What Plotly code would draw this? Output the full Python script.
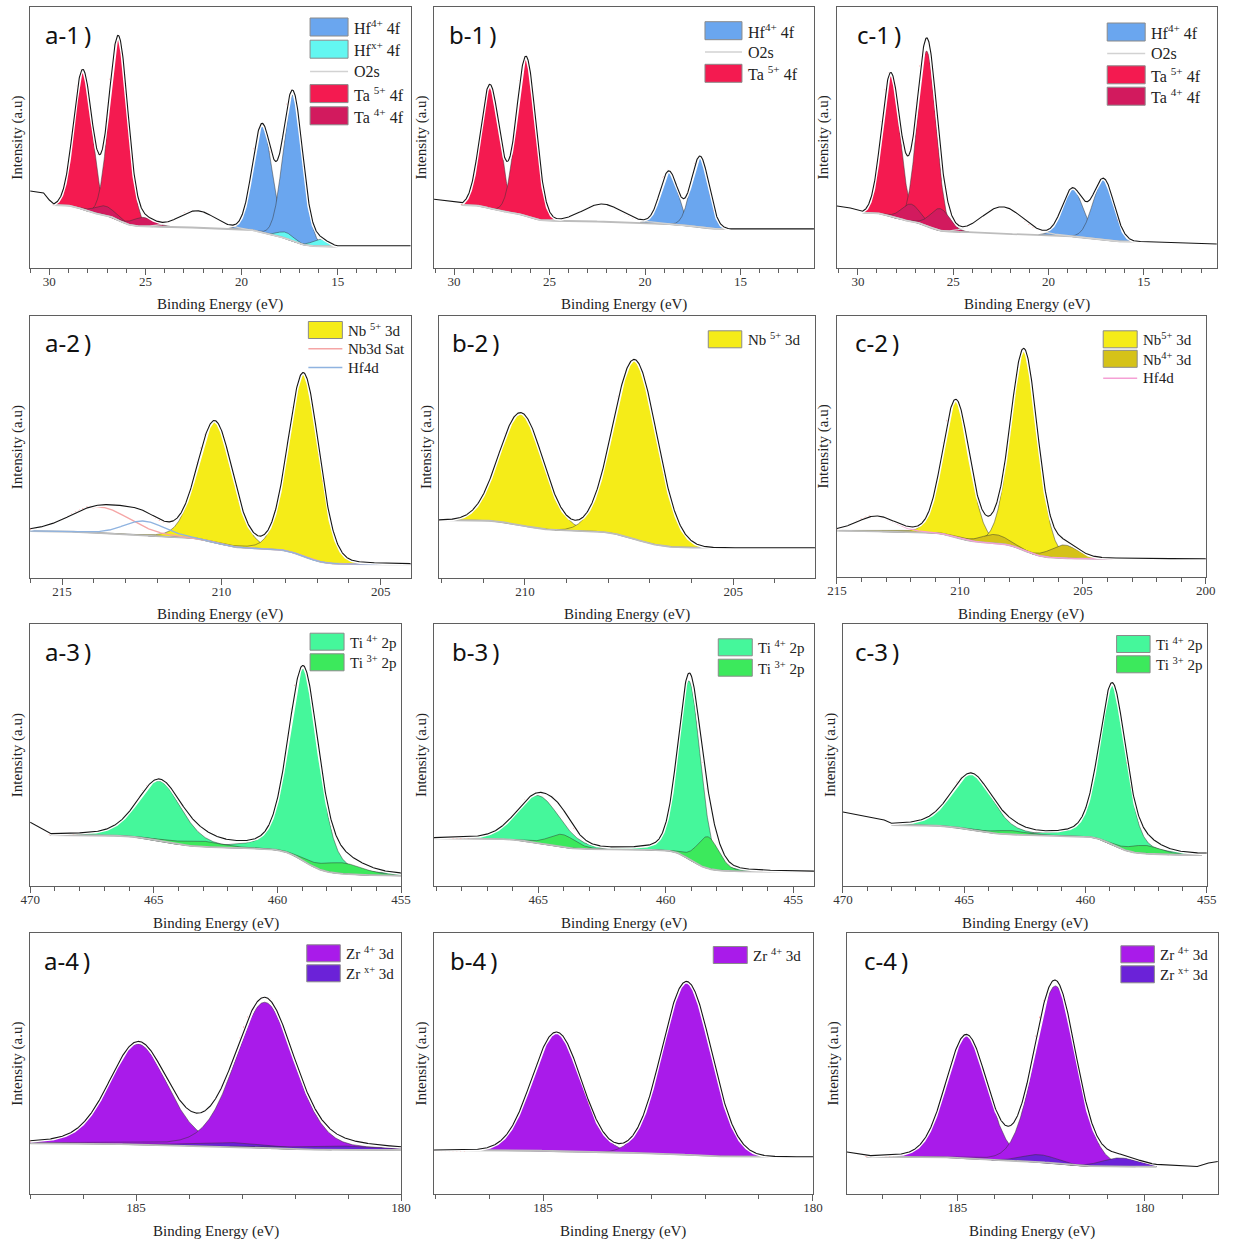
import numpy as np
import plotly.graph_objects as go

FIG_W, FIG_H = 1233, 1245
SERIF = "Liberation Serif"
SANS = "Noto Sans"

# ------------------------------------------------------------------ data
# Each panel: component legend names, kinds, peak centres (eV), peak heights (a.u.),
# FWHM (eV), Shirley background levels [high-BE end, low-BE end], fitted range,
# Lorentzian fraction, and raw-data points outside the fitted range.

# a-1  Hf 4f / Ta 4f
A1_NAMES = ["Hf<sup>4+</sup> 4f", "Hf<sup>x+</sup> 4f", "O2s", "Ta <sup>5+</sup> 4f", "Ta <sup>4+</sup> 4f"]
A1_KINDS = ["Hf4", "Hfx", "O2s", "Ta5", "Ta4"]
A1_POS = [[18.93, 17.32], [17.7, 15.9], [22.3], [28.26, 26.40], [27.1, 25.1]]
A1_AMP = [[108.0, 146.0], [6.0, 7.0], [17.0], [139.0, 180.0], [9.0, 9.0]]
A1_FWHM = [[1.2, 1.2], [1.0, 1.0], [2.2], [1.15, 1.15], [1.3, 1.3]]
A1_BG = [63.0, 21.5]
A1_FIT = [29.8, 15.0]
A1_ETA = 0.0
A1_EXTL_E, A1_EXTL_I = [31.0, 30.3, 30.0], [77.0, 75.0, 68.0]
A1_EXTR_E, A1_EXTR_I = [], []

# b-1
B1_NAMES = ["Hf<sup>4+</sup> 4f", "O2s", "Ta <sup>5+</sup> 4f"]
B1_KINDS = ["Hf4", "O2s", "Ta5"]
B1_POS = [[18.75, 17.12], [22.22], [28.12, 26.23]]
B1_AMP = [[53.0, 71.0], [17.7], [124.0, 160.0]]
B1_FWHM = [[1.1, 1.1], [2.4], [1.2, 1.2]]
B1_BG = [63.0, 39.0]
B1_FIT = [29.6, 15.5]
B1_ETA = 0.0
B1_EXTL_E, B1_EXTL_I = [31.05, 30.3], [68.7, 67.0]
B1_EXTR_E, B1_EXTR_I = [], []

# c-1
C1_NAMES = ["Hf<sup>4+</sup> 4f", "O2s", "Ta <sup>5+</sup> 4f", "Ta <sup>4+</sup> 4f"]
C1_KINDS = ["Hf4", "O2s", "Ta5", "Ta4"]
C1_POS = [[18.74, 17.11], [22.4], [28.28, 26.39], [27.22, 25.69]]
C1_AMP = [[48.0, 61.0], [26.7], [142.0, 175.0], [17.0, 22.0]]
C1_FWHM = [[1.3, 1.3], [2.5], [1.15, 1.15], [1.2, 1.2]]
C1_BG = [55.3, 26.3]
C1_FIT = [29.75, 14.5]
C1_ETA = 0.0
C1_EXTL_E, C1_EXTL_I = [31.1, 30.4], [62.0, 60.0]
C1_EXTR_E, C1_EXTR_I = [13.0, 11.17], [25.0, 24.0]

# a-2  Nb 3d
A2_NAMES = ["Nb <sup>5+</sup> 3d", "Nb3d Sat", "Hf4d"]
A2_KINDS = ["Nb5", "Sat", "Hf4dB"]
A2_POS = [[210.2, 207.42], [213.8], [212.44]]
A2_AMP = [[121.0, 183.0], [26.0], [14.7]]
A2_FWHM = [[1.3, 1.15], [2.2], [1.5]]
A2_BG = [47.0, 13.7]
A2_FIT = [216.0, 204.06]
A2_ETA = 0.1
A2_EXTL_E, A2_EXTL_I = [], []
A2_EXTR_E, A2_EXTR_I = [], []

# b-2
B2_NAMES = ["Nb <sup>5+</sup> 3d"]
B2_KINDS = ["Nb5"]
B2_POS = [[210.09, 207.36]]
B2_AMP = [[112.7, 179.7]]
B2_FWHM = [[1.25, 1.25]]
B2_BG = [58.0, 30.3]
B2_FIT = [212.06, 203.04]
B2_ETA = 0.0
B2_EXTL_E, B2_EXTL_I = [], []
B2_EXTR_E, B2_EXTR_I = [], []

# c-2
C2_NAMES = ["Nb<sup>5+</sup> 3d", "Nb<sup>4+</sup> 3d", "Hf4d"]
C2_KINDS = ["Nb5", "Nb4", "Hf4dP"]
C2_POS = [[210.16, 207.39], [208.58, 205.76], [213.39]]
C2_AMP = [[136.7, 200.0], [8.5, 13.3], [14.7]]
C2_FWHM = [[1.3, 1.3], [1.3, 1.3], [1.8]]
C2_BG = [46.3, 18.0]
C2_FIT = [215.0, 200.0]
C2_ETA = 0.1
C2_EXTL_E, C2_EXTL_I = [], []
C2_EXTR_E, C2_EXTR_I = [], []

# a-3  Ti 2p
A3_NAMES = ["Ti <sup>4+</sup> 2p", "Ti <sup>3+</sup> 2p"]
A3_KINDS = ["Ti4", "Ti3"]
A3_POS = [[464.77, 458.95], [463.13, 457.4]]
A3_AMP = [[60.0, 192.3], [5.7, 11.0]]
A3_FWHM = [[2.1, 1.45], [2.0, 2.0]]
A3_BG = [51.0, 10.3]
A3_FIT = [469.2, 455.0]
A3_ETA = 0.3
A3_EXTL_E, A3_EXTL_I = [470.0, 469.5], [63.7, 57.0]
A3_EXTR_E, A3_EXTR_I = [], []

# b-3
B3_NAMES = ["Ti <sup>4+</sup> 2p", "Ti <sup>3+</sup> 2p"]
B3_KINDS = ["Ti4", "Ti3"]
B3_POS = [[465.0, 459.09], [464.08, 458.35]]
B3_AMP = [[47.6, 178.3], [12.7, 31.7]]
B3_FWHM = [[2.0, 1.05], [1.2, 1.0]]
B3_BG = [47.7, 14.3]
B3_FIT = [469.09, 454.19]
B3_ETA = 0.2
B3_EXTL_E, B3_EXTL_I = [], []
B3_EXTR_E, B3_EXTR_I = [], []

# c-3
C3_NAMES = ["Ti <sup>4+</sup> 2p", "Ti <sup>3+</sup> 2p"]
C3_KINDS = ["Ti4", "Ti3"]
C3_POS = [[464.7, 458.89], [463.12, 457.55]]
C3_AMP = [[56.0, 160.3], [4.0, 8.3]]
C3_FWHM = [[2.0, 1.3], [1.5, 1.5]]
C3_BG = [61.0, 31.0]
C3_FIT = [468.0, 455.2]
C3_ETA = 0.3
C3_EXTL_E, C3_EXTL_I = [470.0, 469.0, 468.3], [74.0, 69.0, 66.0]
C3_EXTR_E, C3_EXTR_I = [455.0], [33.0]

# a-4  Zr 3d
A4_NAMES = ["Zr <sup>4+</sup> 3d", "Zr <sup>x+</sup> 3d"]
A4_KINDS = ["Zr4", "Zrx"]
A4_POS = [[184.96, 182.57], [183.28, 181.26]]
A4_AMP = [[100.7, 145.7], [4.0, 4.0]]
A4_FWHM = [[1.3, 1.3], [1.8, 1.8]]
A4_BG = [50.7, 44.0]
A4_FIT = [187.0, 180.0]
A4_ETA = 0.2
A4_EXTL_E, A4_EXTL_I = [], []
A4_EXTR_E, A4_EXTR_I = [], []

# b-4
B4_NAMES = ["Zr <sup>4+</sup> 3d"]
B4_KINDS = ["Zr4"]
B4_POS = [[184.75, 182.34]]
B4_AMP = [[119.4, 173.3]]
B4_FWHM = [[1.08, 1.08]]
B4_BG = [44.0, 37.3]
B4_FIT = [187.02, 180.0]
B4_ETA = 0.0
B4_EXTL_E, B4_EXTL_I = [], []
B4_EXTR_E, B4_EXTR_I = [], []

# c-4
C4_NAMES = ["Zr <sup>4+</sup> 3d", "Zr <sup>x+</sup> 3d"]
C4_KINDS = ["Zr4", "Zrx"]
C4_POS = [[184.76, 182.38], [182.8, 180.66]]
C4_AMP = [[123.0, 177.7], [7.3, 8.7]]
C4_FWHM = [[1.3, 1.3], [1.1, 1.1]]
C4_BG = [37.3, 27.3]
C4_FIT = [187.43, 179.69]
C4_ETA = 0.1
C4_EXTL_E, C4_EXTL_I = [187.95, 187.6], [42.0, 40.0]
C4_EXTR_E, C4_EXTR_I = [178.6, 178.3, 178.05], [27.5, 31.0, 32.5]

X_TITLE = "Binding Energy (eV)"
Y_TITLE = "Intensity (a.u)"

# ------------------------------------------------------------------ styles
STYLE = {
    "Hf4": ("fill", "#6aa6ef", 0), "Hfx": ("fill", "#63f7f1", 1),
    "O2s": ("line", "#d2d2d2", 2),
    "Ta5": ("fill", "#f41a50", 0), "Ta4": ("fill", "#d21a5e", 1),
    "Nb5": ("fill", "#f5ec18", 0), "Nb4": ("fill", "#d5c218", 1),
    "Sat": ("line", "#f5a5a5", 2), "Hf4dB": ("line", "#8fb3e0", 2),
    "Hf4dP": ("line", "#f5a0d5", 2),
    "Ti4": ("fill", "#45f79b", 0), "Ti3": ("fill", "#3ce95c", 1),
    "Zr4": ("fill", "#a91bea", 0), "Zrx": ("fill", "#6b22d8", 1),
}

# plot-area boxes in pixels (left, right, top, bottom) and x ranges
GEOM = {
    "a-1": ((30, 410.7, 7, 268), (31.0, 11.2)),
    "b-1": ((434, 814, 7, 268), (31.05, 11.16)),
    "c-1": ((837, 1217, 7, 268), (31.1, 11.17)),
    "a-2": ((30, 410.7, 316, 578), (216.0, 204.06)),
    "b-2": ((439, 815, 316, 578), (212.06, 203.04)),
    "c-2": ((837, 1206, 316, 577), (215.0, 200.0)),
    "a-3": ((30, 401, 624, 886), (470.0, 455.0)),
    "b-3": ((434, 814, 624, 886), (469.09, 454.19)),
    "c-3": ((843, 1207, 624, 886), (470.0, 455.0)),
    "a-4": ((30, 401, 933, 1194), (187.0, 180.0)),
    "b-4": ((434, 813, 933, 1194), (187.02, 180.0)),
    "c-4": ((847, 1218, 933, 1194), (187.95, 178.05)),
}
# legend: swatch x0, first row y, row step, swatch w, swatch h, font size
LEG = {
    "a-1": (310, 27, 22.2, 38, 18, 16), "b-1": (705, 30.7, 21.3, 37, 18, 16),
    "c-1": (1107.3, 32, 21.4, 38, 18, 16),
    "a-2": (308.3, 330, 18.8, 34, 17, 15), "b-2": (708.3, 339.3, 19, 33.5, 17, 15),
    "c-2": (1103.3, 339.3, 19.5, 34, 17, 15),
    "a-3": (310, 641.7, 20.6, 34, 17, 15), "b-3": (718.3, 647.3, 20.4, 34, 17, 15),
    "c-3": (1116.7, 644, 20.3, 33.5, 17, 15),
    "a-4": (306.7, 953.3, 20, 33.5, 17, 15), "b-4": (713.3, 955, 20, 34, 17, 15),
    "c-4": (1121, 954.3, 20, 33.5, 17, 15),
}
LABEL_DX = {"a-1": 13, "b-1": 13, "c-1": 18, "a-2": 13, "b-2": 11, "c-2": 16,
            "a-3": 13, "b-3": 16, "c-3": 10, "a-4": 12, "b-4": 14, "c-4": 15}

PANELS = [
    ("a-1", A1_NAMES, A1_KINDS, A1_POS, A1_AMP, A1_FWHM, A1_BG, A1_FIT, A1_ETA, A1_EXTL_E, A1_EXTL_I, A1_EXTR_E, A1_EXTR_I),
    ("b-1", B1_NAMES, B1_KINDS, B1_POS, B1_AMP, B1_FWHM, B1_BG, B1_FIT, B1_ETA, B1_EXTL_E, B1_EXTL_I, B1_EXTR_E, B1_EXTR_I),
    ("c-1", C1_NAMES, C1_KINDS, C1_POS, C1_AMP, C1_FWHM, C1_BG, C1_FIT, C1_ETA, C1_EXTL_E, C1_EXTL_I, C1_EXTR_E, C1_EXTR_I),
    ("a-2", A2_NAMES, A2_KINDS, A2_POS, A2_AMP, A2_FWHM, A2_BG, A2_FIT, A2_ETA, A2_EXTL_E, A2_EXTL_I, A2_EXTR_E, A2_EXTR_I),
    ("b-2", B2_NAMES, B2_KINDS, B2_POS, B2_AMP, B2_FWHM, B2_BG, B2_FIT, B2_ETA, B2_EXTL_E, B2_EXTL_I, B2_EXTR_E, B2_EXTR_I),
    ("c-2", C2_NAMES, C2_KINDS, C2_POS, C2_AMP, C2_FWHM, C2_BG, C2_FIT, C2_ETA, C2_EXTL_E, C2_EXTL_I, C2_EXTR_E, C2_EXTR_I),
    ("a-3", A3_NAMES, A3_KINDS, A3_POS, A3_AMP, A3_FWHM, A3_BG, A3_FIT, A3_ETA, A3_EXTL_E, A3_EXTL_I, A3_EXTR_E, A3_EXTR_I),
    ("b-3", B3_NAMES, B3_KINDS, B3_POS, B3_AMP, B3_FWHM, B3_BG, B3_FIT, B3_ETA, B3_EXTL_E, B3_EXTL_I, B3_EXTR_E, B3_EXTR_I),
    ("c-3", C3_NAMES, C3_KINDS, C3_POS, C3_AMP, C3_FWHM, C3_BG, C3_FIT, C3_ETA, C3_EXTL_E, C3_EXTL_I, C3_EXTR_E, C3_EXTR_I),
    ("a-4", A4_NAMES, A4_KINDS, A4_POS, A4_AMP, A4_FWHM, A4_BG, A4_FIT, A4_ETA, A4_EXTL_E, A4_EXTL_I, A4_EXTR_E, A4_EXTR_I),
    ("b-4", B4_NAMES, B4_KINDS, B4_POS, B4_AMP, B4_FWHM, B4_BG, B4_FIT, B4_ETA, B4_EXTL_E, B4_EXTL_I, B4_EXTR_E, B4_EXTR_I),
    ("c-4", C4_NAMES, C4_KINDS, C4_POS, C4_AMP, C4_FWHM, C4_BG, C4_FIT, C4_ETA, C4_EXTL_E, C4_EXTL_I, C4_EXTR_E, C4_EXTR_I),
]


def line_shape(E, c, h, w, eta):
    """Gaussian-Lorentzian (pseudo-Voigt) XPS component."""
    x = (E - c) / w
    g = np.exp(-4.0 * np.log(2.0) * x ** 2)
    lor = 1.0 / (1.0 + 4.0 * x ** 2)
    return h * ((1.0 - eta) * g + eta * lor)


# horizontal placement: the photographed page comes out ~1.6 % narrower about its centre,
# so horizontal positions are spread by the inverse factor
HX_C, HX_K = FIG_W / 2.0, 1.0 / 0.984


def px2fx(px):
    return (HX_C + (px - HX_C) * HX_K) / FIG_W


def px2fy(py):
    return 1.0 - py / FIG_H


fig = go.Figure()
layout = dict(width=FIG_W, height=FIG_H, margin=dict(l=0, r=0, t=0, b=0, pad=0),
              paper_bgcolor="white", plot_bgcolor="white", showlegend=False,
              autosize=False)
annotations, shapes = [], []
FRAME = "#5f5f5f"

for i, (lab, names, kinds, pos, amp, fwhm, bg, fit, eta, exle, exli, exre, exri) in enumerate(PANELS, start=1):
    (left, right, top, bottom), xr = GEOM[lab]
    xa, ya = ("x" if i == 1 else f"x{i}"), ("y" if i == 1 else f"y{i}")
    ph = bottom - top

    E = np.linspace(fit[0], fit[1], 900)
    comps = []
    for k, kind in enumerate(kinds):
        for c, h, w in zip(pos[k], amp[k], fwhm[k]):
            comps.append((kind, line_shape(E, c, h, w, eta)))
    P = np.sum([p for _, p in comps], axis=0)
    # Shirley background
    Ea, Pa = E[::-1], P[::-1]
    cum = np.concatenate([[0.0], np.cumsum((Pa[1:] + Pa[:-1]) / 2.0 * np.diff(Ea))])
    B = (bg[1] + (bg[0] - bg[1]) * cum / cum[-1])[::-1]
    env = B + P

    # filled components
    for level in (0, 1):
        for kind, p in comps:
            mode, col, z = STYLE[kind]
            if mode != "fill" or z != level:
                continue
            m = p > 0.25
            xs = np.concatenate([E[m], E[m][::-1]])
            ys = np.concatenate([(B + p)[m], B[m][::-1]])
            fig.add_trace(go.Scatter(x=xs, y=ys, xaxis=xa, yaxis=ya, mode="lines",
                                     fill="toself", fillcolor=col,
                                     line=dict(color="rgba(50,50,50,0.8)", width=0.6),
                                     hoverinfo="skip"))
    # background
    fig.add_trace(go.Scatter(x=E, y=B, xaxis=xa, yaxis=ya, mode="lines",
                             line=dict(color="#bdbdbd", width=1.8), hoverinfo="skip"))
    # line components
    for kind in dict.fromkeys(kinds):
        mode, col, z = STYLE[kind]
        if mode != "line":
            continue
        s = np.sum([p for kd, p in comps if kd == kind], axis=0)
        fig.add_trace(go.Scatter(x=E, y=B + s, xaxis=xa, yaxis=ya, mode="lines",
                                 line=dict(color=col, width=1.3), hoverinfo="skip"))

    # measured data line (fit envelope + raw points outside the fitted window)
    dx = list(exle) if exle else ([xr[0]] if fit[0] < xr[0] - 0.01 else [])
    dy = list(exli) if exle else ([env[0]] if fit[0] < xr[0] - 0.01 else [])
    dxr = list(exre) if exre else ([xr[1]] if fit[1] > xr[1] + 0.01 else [])
    dyr = list(exri) if exre else ([env[-1]] if fit[1] > xr[1] + 0.01 else [])
    DX = np.concatenate([dx, E, dxr])
    DY = np.concatenate([dy, env, dyr])

    ppe = (right - left) / abs(xr[0] - xr[1])
    step = max(1, int(round(4.0 / ((fit[0] - fit[1]) / 899.0 * ppe))))
    fig.add_trace(go.Scatter(x=E[::step], y=env[::step], xaxis=xa, yaxis=ya, mode="markers",
                             marker=dict(color="#ff2a2a", size=2.6), hoverinfo="skip"))
    fig.add_trace(go.Scatter(x=DX, y=DY, xaxis=xa, yaxis=ya, mode="lines",
                             line=dict(color="white", width=4), hoverinfo="skip"))
    fig.add_trace(go.Scatter(x=DX, y=DY, xaxis=xa, yaxis=ya, mode="lines",
                             line=dict(color="#151515", width=1.1), hoverinfo="skip"))

    xkey = "xaxis" if i == 1 else f"xaxis{i}"
    ykey = "yaxis" if i == 1 else f"yaxis{i}"
    layout[xkey] = dict(domain=[px2fx(left), px2fx(right)], range=list(xr), anchor=ya,
                        showline=True, linecolor=FRAME, linewidth=1, mirror=True,
                        ticks="outside", ticklen=6, tickwidth=1, tickcolor=FRAME,
                        tickmode="linear", tick0=0, dtick=5, ticklabelstandoff=-5,
                        minor=dict(ticks="outside", ticklen=3.5, tickcolor=FRAME,
                                   tickmode="linear", tick0=0, dtick=1, showgrid=False),
                        showgrid=False, zeroline=False,
                        tickfont=dict(family=SERIF, size=13, color="#333333"))
    layout[ykey] = dict(domain=[px2fy(bottom), px2fy(top)], range=[0, ph], anchor=xa,
                        showline=True, linecolor=FRAME, linewidth=1, mirror=True,
                        ticks="", showticklabels=False, showgrid=False, zeroline=False)

    # axis titles & panel label
    annotations.append(dict(x=px2fx((left + right) / 2), y=px2fy(bottom + 37), xref="paper",
                            yref="paper", text=X_TITLE, showarrow=False, xanchor="center",
                            yanchor="middle", font=dict(family=SERIF, size=15, color="#222")))
    annotations.append(dict(x=px2fx(left - 13), y=px2fy((top + bottom) / 2), xref="paper",
                            yref="paper", text=Y_TITLE, showarrow=False, textangle=-90,
                            xanchor="center", yanchor="middle",
                            font=dict(family=SERIF, size=15, color="#222")))
    annotations.append(dict(x=px2fx(left + LABEL_DX[lab]), y=px2fy(top + 27), xref="paper",
                            yref="paper", text=lab + "\u2009)", showarrow=False,
                            xanchor="left", yanchor="middle",
                            font=dict(family=SANS, size=24, color="#111")))

    # legend
    lx, ly, ldy, sw, sh, fs = LEG[lab]
    for r, (nm, kind) in enumerate(zip(names, kinds)):
        mode, col, z = STYLE[kind]
        yc = ly + r * ldy
        if mode == "fill":
            shapes.append(dict(type="rect", xref="paper", yref="paper",
                               x0=px2fx(lx), x1=px2fx(lx + sw), y0=px2fy(yc + sh / 2),
                               y1=px2fy(yc - sh / 2), fillcolor=col,
                               line=dict(color="#8a8a8a", width=1)))
        else:
            shapes.append(dict(type="line", xref="paper", yref="paper",
                               x0=px2fx(lx), x1=px2fx(lx + sw), y0=px2fy(yc), y1=px2fy(yc),
                               line=dict(color=col, width=1.5)))
        annotations.append(dict(x=px2fx(lx + sw + 4), y=px2fy(yc), xref="paper", yref="paper",
                                text=nm, showarrow=False, xanchor="left", yanchor="middle",
                                font=dict(family=SERIF, size=fs, color="#222")))

layout["annotations"] = annotations
layout["shapes"] = shapes
fig.update_layout(**layout)
fig.write_html("out.html", config={"responsive": False, "displayModeBar": False},
               post_script="document.body.style.margin='0px';document.body.style.overflow='hidden';")
